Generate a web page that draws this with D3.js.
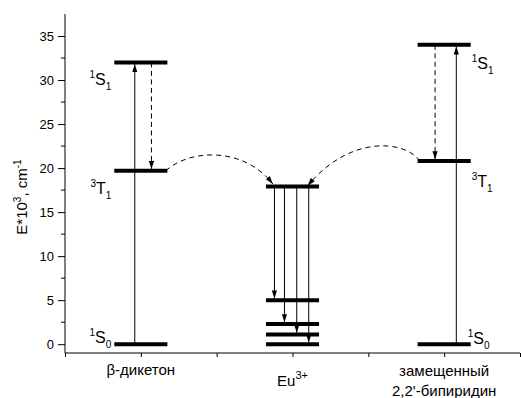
<!DOCTYPE html>
<html>
<head>
<meta charset="utf-8">
<script src="https://cdn.jsdelivr.net/npm/d3@7"></script>
<style>
  body { margin: 0; background: #fff; }
  text { font-family: "Liberation Sans", Arial, sans-serif; fill: #000; }
</style>
</head>
<body>
<div id="output"></div>
<script>
// energy levels, E*10^3 cm^-1
var categories = ["β-дикетон", "Eu", "замещенный"];
var ligand1Levels = [0, 19.7, 32];        // S0, T1, S1
var euLevels = [17.9, 5, 2.3, 1.1, 0];
var ligand2Levels = [0, 20.8, 34];        // S0, T1, S1
var yTicks = [0, 5, 10, 15, 20, 25, 30, 35];
var yMinor = [2.5, 7.5, 12.5, 17.5, 22.5, 27.5, 32.5];

var w = 521, h = 398;
var margin = {top: 14, right: 1, bottom: 45, left: 65};

var x = d3.scaleLinear().domain([0.5, 3.5]).range([margin.left, w - margin.right]);
var y = d3.scaleLinear().domain([-1, 37.5]).range([h - margin.bottom, margin.top]);

var svg = d3.select("#output").append("svg")
    .attr("width", w)
    .attr("height", h);

var defs = svg.append("defs");
defs.append("marker")
    .attr("id", "head")
    .attr("markerUnits", "userSpaceOnUse")
    .attr("viewBox", "0 -3 8 6")
    .attr("refX", 8)
    .attr("refY", 0)
    .attr("markerWidth", 8)
    .attr("markerHeight", 6)
    .attr("orient", "auto")
    .append("path")
    .attr("d", "M0,-2.6L8,0L0,2.6Z")
    .attr("fill", "#000");

// axes
var yAxis = d3.axisLeft(y).tickValues(yTicks).tickSize(7).tickPadding(4);
var gy = svg.append("g")
    .attr("transform", "translate(" + margin.left + ",0)")
    .call(yAxis);
gy.select(".domain").attr("d", "M0," + y.range()[1] + "V" + y.range()[0]);
gy.selectAll("text").style("font-size", "13px");

svg.append("g")
    .attr("transform", "translate(" + margin.left + ",0)")
    .selectAll("line")
    .data(yMinor)
    .enter().append("line")
    .attr("x1", -4).attr("x2", 0)
    .attr("y1", function (d) { return y(d); })
    .attr("y2", function (d) { return y(d); })
    .attr("stroke", "#000");

var xAxis = d3.axisBottom(x).tickValues([0.5, 1, 1.5, 2, 2.5, 3, 3.5]).tickSize(4).tickFormat("");
var gx = svg.append("g")
    .attr("transform", "translate(0," + y.range()[0] + ")")
    .call(xAxis);
gx.select(".domain").attr("d", "M" + x.range()[0] + ",0H" + x.range()[1]);

// x category labels
var xl = svg.append("g").attr("text-anchor", "middle");
xl.append("text").attr("x", x(1)).attr("y", 375).style("font-size", "15px").text(categories[0]);
var eu = xl.append("text").attr("x", x(2)).attr("y", 386).style("font-size", "15px");
eu.append("tspan").text(categories[1]);
eu.append("tspan").attr("dy", -7).style("font-size", "11px").text("3+");
xl.append("text").attr("x", x(3)).attr("y", 376).style("font-size", "15px").text(categories[2]);
xl.append("text").attr("x", x(3)).attr("y", 396).style("font-size", "15px").text("2,2'-бипиридин");

// y label
var yl = svg.append("text")
    .attr("transform", "translate(27,197) rotate(-90)")
    .attr("text-anchor", "middle")
    .style("font-size", "15px");
yl.append("tspan").text("E*10");
yl.append("tspan").attr("dy", -6).style("font-size", "10px").text("3");
yl.append("tspan").attr("dy", 6).text(", cm");
yl.append("tspan").attr("dy", -6).style("font-size", "10px").text("-1");

// levels
var half = 0.175;
function levels(cx, data) {
    svg.append("g").selectAll("line")
        .data(data)
        .enter().append("line")
        .attr("x1", x(cx - half)).attr("x2", x(cx + half))
        .attr("y1", function (d) { return y(d); })
        .attr("y2", function (d) { return y(d); })
        .attr("stroke", "#000")
        .attr("stroke-width", 4);
}
levels(1, ligand1Levels);
levels(2, euLevels);
levels(3, ligand2Levels);

function arrow(x0, y0, x1, y1, dashed) {
    svg.append("line")
        .attr("x1", x(x0)).attr("y1", y(y0))
        .attr("x2", x(x1)).attr("y2", y(y1))
        .attr("stroke", "#000")
        .attr("stroke-width", 1)
        .attr("stroke-dasharray", dashed ? "5,3.5" : null)
        .attr("marker-end", "url(#head)");
}

// ligand absorption / ISC
arrow(0.96, ligand1Levels[0], 0.96, ligand1Levels[2] - 0.2);
arrow(1.07, ligand1Levels[2], 1.07, ligand1Levels[1] + 0.2, true);
arrow(3.08, ligand2Levels[0], 3.08, ligand2Levels[2] - 0.2);
arrow(2.94, ligand2Levels[2], 2.94, ligand2Levels[1] + 0.2, true);

// Eu emission
var euOff = [-0.119, -0.053, 0.028, 0.107];
euLevels.slice(1).forEach(function (d, i) {
    arrow(2 + euOff[i], euLevels[0], 2 + euOff[i], d + 0.2);
});

// energy transfer curves
function transfer(p) {
    var path = d3.path();
    path.moveTo(x(p[0][0]), y(p[0][1]));
    path.bezierCurveTo(x(p[1][0]), y(p[1][1]), x(p[2][0]), y(p[2][1]), x(p[3][0]), y(p[3][1]));
    svg.append("path")
        .attr("d", path.toString())
        .attr("fill", "none")
        .attr("stroke", "#000")
        .attr("stroke-dasharray", "5,4")
        .attr("marker-end", "url(#head)");
}
transfer([[1.165, ligand1Levels[1]], [1.31, 22.05], [1.67, 22.6], [1.87, euLevels[0] + 0.3]]);
transfer([[2.84, ligand2Levels[1]], [2.74, 23.2], [2.38, 23.8], [2.10, euLevels[0] + 0.1]]);

// state labels
function stateLabel(px, py, sup, main, sub, anchor) {
    var t = svg.append("text")
        .attr("x", px).attr("y", py)
        .attr("text-anchor", anchor)
        .style("font-size", "16px");
    t.append("tspan").attr("dy", -7).style("font-size", "10px").text(sup);
    t.append("tspan").attr("dy", 7).text(main);
    t.append("tspan").attr("dy", 5).style("font-size", "10px").text(sub);
}
var lx = x(1 - half) - 3, rx = x(3 + half) + 1;
stateLabel(lx, y(ligand1Levels[2]) + 23, "1", "S", "1", "end");
stateLabel(lx, y(ligand1Levels[1]) + 23, "3", "T", "1", "end");
stateLabel(lx, y(ligand1Levels[0]) - 1, "1", "S", "0", "end");
stateLabel(rx, y(ligand2Levels[2]) + 24, "1", "S", "1", "start");
stateLabel(rx, y(ligand2Levels[1]) + 26, "3", "T", "1", "start");
stateLabel(rx - 4, y(ligand2Levels[0]), "1", "S", "0", "start");
</script>
</body>
</html>
